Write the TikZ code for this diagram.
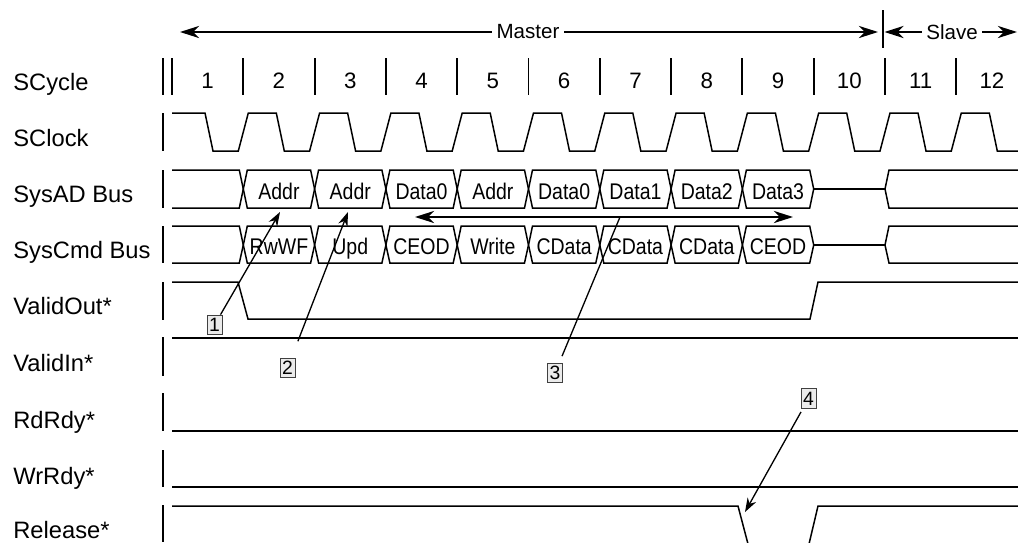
\documentclass[tikz,border=0pt]{standalone}
\usepackage{fontspec}
\setmainfont{Liberation Sans}
\newfontfamily\narrowfont[FakeStretch=0.86]{Liberation Sans}
\usetikzlibrary{
    arrows.meta, % For arrow tips
    positioning, % For relative placement
    calc         % For coordinate calculations
}

\begin{document}
\begin{tikzpicture}[
    x=0.02cm, y=-0.02cm, % one unit = one pixel of the sheet, y downwards
    >={Stealth[length=11pt,width=7pt]},
    sig/.style={line width=0.85pt, line join=miter}, % signal traces
    bar/.style={line width=1.1pt},                   % row and cycle bars
    rowlabel/.style={anchor=base west, inner sep=0pt, font=\fontsize{13.5}{16}\selectfont},
    cyc/.style={anchor=base, inner sep=0pt, font=\fontsize{12.7}{15}\selectfont},
    cell/.style={anchor=base, inner sep=0pt, font=\narrowfont\fontsize{12.9}{15}\selectfont},
    span/.style={inner sep=2.5pt, font=\fontsize{11.7}{14}\selectfont},
    callbox/.style={draw=black!75, fill=black!8, line width=0.5pt, inner sep=0pt,
        minimum width=8.5pt, minimum height=11.3pt, font=\fontsize{11}{12}\selectfont},
    callout/.style={line width=0.75pt, -{Stealth[length=8pt,width=5.5pt]}}
]
    \useasboundingbox (0,0) rectangle (1018,542);

    \def\cw{71.3}  % width of one cycle
    \def\xo{172}   % start of cycle 1

    % Master / Slave spans
    \node[span] (master) at (528,32) {Master};
    \coordinate (mL) at (180,32);
    \coordinate (mR) at (878,32);
    \draw[->, line width=0.8pt] (master) -- (mL);
    \draw[->, line width=0.8pt] (master) -- (mR);
    \draw[bar] (883,10) -- (883,48);
    \node[span] (slave) at (952,32) {Slave};
    \coordinate (sL) at (884.5,32);
    \coordinate (sR) at (1017,32);
    \draw[->, line width=0.8pt] (slave) -- (sL);
    \draw[->, line width=0.8pt] (slave) -- (sR);

    % Row labels
    \node[rowlabel] (lcyc) at (13,90)  {SCycle};
    \node[rowlabel] (lclk) at (13,146) {SClock};
    \node[rowlabel] (lad)  at (13,202) {SysAD Bus};
    \node[rowlabel] (lcmd) at (13,258) {SysCmd Bus};
    \node[rowlabel] (lvo)  at (13,314) {ValidOut*};
    \node[rowlabel] (lvi)  at (13,371) {ValidIn*};
    \node[rowlabel] (lrd)  at (13,428) {RdRdy*};
    \node[rowlabel] (lwr)  at (13,484) {WrRdy*};
    \node[rowlabel] (lrel) at (13,538) {Release*};

    % Left bars of each row
    \foreach \ya/\yb in {58/95, 113/151, 170/208, 226/263, 282/320, 337/376, 393/431, 450/487, 505/542}
        \draw[bar] (163,\ya) -- (163,\yb);

    % SCycle: cycle bars and numbers
    \foreach \k in {1,...,12} {
        \draw[bar] ({\xo+(\k-1)*\cw},58) -- ({\xo+(\k-1)*\cw},95);
        \node[cyc] (c\k) at ({\xo+(\k-0.5)*\cw},88) {\k};
    }

    % SClock
    \draw[sig] (\xo,113) \foreach \k [evaluate=\k as \xk using \xo+(\k-1)*\cw] in {1,...,12} {
        -- ({\xk+33},113) -- ({\xk+41},151) -- ({\xk+\cw-5},151) -- ({\xk+\cw+5},113) };

    % SysAD Bus
    \draw[sig] (\xo,170) -- ({\xo+\cw-4},170) -- ({\xo+\cw},189) -- ({\xo+\cw-4},208) -- (\xo,208);
    \foreach \k/\txt in {2/Addr, 3/Addr, 4/Data0, 5/Addr, 6/Data0, 7/Data1, 8/Data2, 9/Data3} {
        \pgfmathsetmacro\xa{\xo+(\k-1)*\cw}
        \pgfmathsetmacro\xb{\xa+\cw}
        \draw[sig] (\xa,189) -- ({\xa+4},170) -- ({\xb-4},170) -- (\xb,189)
            -- ({\xb-4},208) -- ({\xa+4},208) -- cycle;
        \node[cell] (ad\k) at ({(\xa+\xb)/2},199) {\txt};
    }
    \draw[sig] ({\xo+9*\cw},189) -- ({\xo+10*\cw},189);
    \draw[sig] (1018,170) -- ({\xo+10*\cw+4},170) -- ({\xo+10*\cw},189) -- ({\xo+10*\cw+4},208) -- (1018,208);

    % SysCmd Bus
    \draw[sig] (\xo,226) -- ({\xo+\cw-4},226) -- ({\xo+\cw},245) -- ({\xo+\cw-4},263) -- (\xo,263);
    \foreach \k/\txt in {2/RwWF, 3/Upd, 4/CEOD, 5/Write, 6/CData, 7/CData, 8/CData, 9/CEOD} {
        \pgfmathsetmacro\xa{\xo+(\k-1)*\cw}
        \pgfmathsetmacro\xb{\xa+\cw}
        \draw[sig] (\xa,245) -- ({\xa+4},226) -- ({\xb-4},226) -- (\xb,245)
            -- ({\xb-4},263) -- ({\xa+4},263) -- cycle;
        \node[cell] (cmd\k) at ({(\xa+\xb)/2},254.5) {\txt};
    }
    \draw[sig] ({\xo+9*\cw},245) -- ({\xo+10*\cw},245);
    \draw[sig] (1018,226) -- ({\xo+10*\cw+4},226) -- ({\xo+10*\cw},245) -- ({\xo+10*\cw+4},263) -- (1018,263);

    % Data span between the buses
    \coordinate (dL) at (415,217);
    \coordinate (dR) at (793,217);
    \draw[<->, line width=0.8pt] (dL) -- (dR);

    % Control signals
    \draw[sig] (\xo,282) -- (238,282) -- (248,319) -- (810,319) -- (818,282) -- (1018,282); % ValidOut*
    \draw[sig] (\xo,338) -- (1018,338); % ValidIn*
    \draw[sig] (\xo,431) -- (1018,431); % RdRdy*
    \draw[sig] (\xo,487) -- (1018,487); % WrRdy*
    \draw[sig] (\xo,506) -- (738,506) -- (748,544); % Release*
    \draw[sig] (809,544) -- (818,506) -- (1018,506);

    % Numbered callouts
    \node[callbox] (n1) at (214.5,325) {1};
    \node[callbox] (n2) at (287.5,368) {2};
    \node[callbox] (n3) at (555,373) {3};
    \node[callbox] (n4) at (808.5,398.5) {4};
    \coordinate (t1) at (280,212);
    \coordinate (t2) at (348,212);
    \coordinate (t3) at (620,217);
    \coordinate (t4) at (745,512);
    \draw[callout] (n1) -- (t1);
    \draw[callout, shorten <=10pt] (n2) -- (t2);
    \draw[line width=0.75pt, shorten <=4pt] (n3) -- (t3);
    \draw[callout, shorten <=2pt] (n4) -- (t4);

\end{tikzpicture}
\end{document}
